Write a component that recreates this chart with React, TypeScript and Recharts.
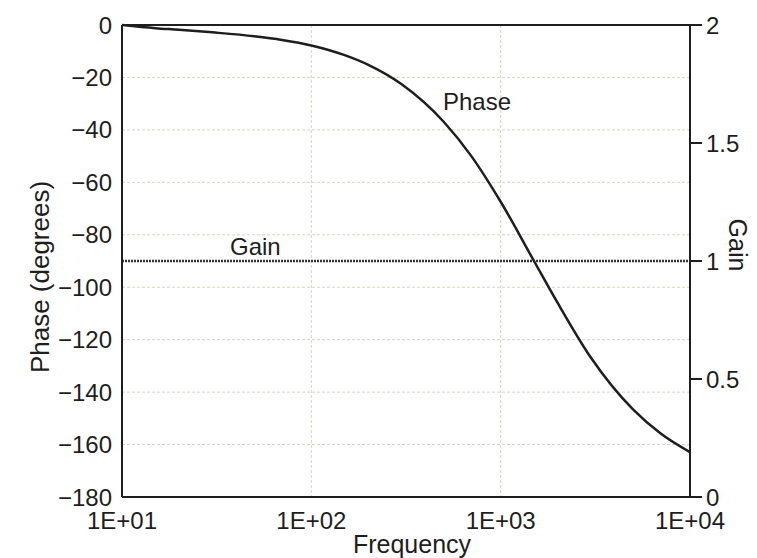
import { LineChart, Line, XAxis, YAxis, CartesianGrid, ReferenceLine, Label } from "recharts";

// frequency points (Hz)
const freqs = [10, 15, 20, 30, 50, 70, 100, 150, 200, 300, 500, 700, 1000, 1500, 2000, 3000, 5000, 7000, 10000];
// phase (degrees)
const phase = [0, -1.2, -1.8, -2.8, -4.3, -5.7, -7.8, -11.5, -15.2, -22.6, -36.9, -50, -67.4, -90, -106, -126.9, -146.6, -155.8, -162.9];
// gain, flat at unity
const gain = [1, 1, 1, 1, 1, 1, 1, 1, 1, 1, 1, 1, 1, 1, 1, 1, 1, 1, 1];

const xTicks = [10, 100, 1000, 10000];
const phaseTicks = [-180, -160, -140, -120, -100, -80, -60, -40, -20, 0];
const gainTicks = [0, 0.5, 1, 1.5, 2];

const data = freqs.map((f, i) => ({ f, phase: phase[i], gain: gain[i] }));

const FONT = "'Liberation Sans', Arial, Helvetica, sans-serif";
const INK = "#1e1e1e";
const tickStyle = { fontSize: 24, fill: INK, fontFamily: FONT };

const expLabel = (v: number) => {
  const e = Math.round(Math.log10(v));
  return `1E+${e < 10 ? "0" + e : e}`;
};

export default function App() {
  return (
    <div style={{ position: "absolute", left: 0, top: 0, width: 757, height: 558, background: "#fff" }}>
      <LineChart
        width={757}
        height={558}
        data={data}
        margin={{ top: 25, right: 19, left: 62, bottom: 31 }}
      >
        <CartesianGrid
          yAxisId="left"
          stroke="#d8d4c0"
          strokeDasharray="3 2"
          strokeWidth={1}
        />
        <XAxis
          dataKey="f"
          type="number"
          scale="log"
          domain={[10, 10000]}
          ticks={xTicks}
          tickFormatter={expLabel}
          tick={tickStyle}
          tickLine={false}
          tickMargin={9}
          axisLine={{ stroke: INK, strokeWidth: 2 }}
          height={30}
          allowDataOverflow
        >
          <Label
            content={() => (
              <text x={412} y={553} textAnchor="middle" fontSize={25} fontFamily={FONT} fill={INK}>
                Frequency
              </text>
            )}
          />
        </XAxis>
        <YAxis
          yAxisId="left"
          domain={[-180, 0]}
          ticks={phaseTicks}
          tickFormatter={(v: number) => String(v).replace("-", "\u2212")}
          tick={tickStyle}
          tickLine={false}
          tickMargin={4}
          axisLine={{ stroke: INK, strokeWidth: 2 }}
          width={60}
        >
          <Label
            content={() => (
              <text
                x={49}
                y={277}
                transform="rotate(-90 49 277)"
                textAnchor="middle"
                fontSize={26}
                fontFamily={FONT}
                fill={INK}
              >
                Phase (degrees)
              </text>
            )}
          />
        </YAxis>
        <YAxis
          yAxisId="right"
          orientation="right"
          domain={[0, 2]}
          ticks={gainTicks}
          tick={tickStyle}
          tickSize={12}
          tickMargin={4}
          tickLine={{ stroke: INK, strokeWidth: 2 }}
          axisLine={{ stroke: INK, strokeWidth: 2 }}
          width={48}
        >
          <Label
            content={() => (
              <text
                x={729}
                y={245}
                transform="rotate(90 729 245)"
                textAnchor="middle"
                fontSize={25}
                fontFamily={FONT}
                fill={INK}
              >
                Gain
              </text>
            )}
          />
        </YAxis>
        <ReferenceLine yAxisId="left" y={0} stroke={INK} strokeWidth={2} />
        <Line
          yAxisId="right"
          dataKey="gain"
          stroke="#333"
          strokeWidth={2.5}
          strokeDasharray="2 1"
          dot={false}
          isAnimationActive={false}
        />
        <Line
          yAxisId="left"
          dataKey="phase"
          type="monotone"
          stroke={INK}
          strokeWidth={2.5}
          dot={false}
          isAnimationActive={false}
        />
        <text x={230} y={255} fontSize={24} fontFamily={FONT} fill={INK}>
          Gain
        </text>
        <text x={443} y={110} fontSize={24} fontFamily={FONT} fill={INK}>
          Phase
        </text>
      </LineChart>
    </div>
  );
}
